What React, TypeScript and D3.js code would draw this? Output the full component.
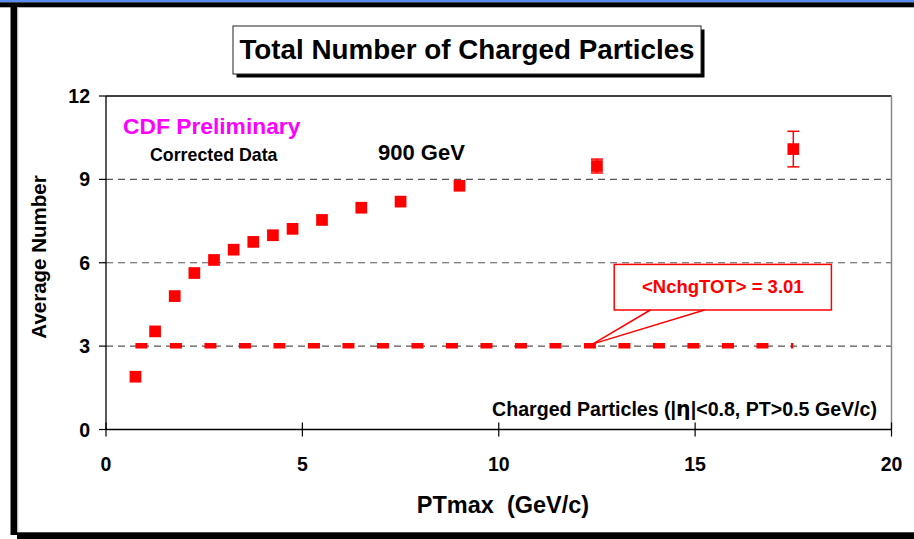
import { useEffect, useRef } from 'react'
import * as d3 from 'd3'

// CDF 900 GeV, average number of charged particles vs PTmax
const ptMax = [0.75, 1.25, 1.75, 2.25, 2.75, 3.25, 3.75, 4.25, 4.75, 5.5, 6.5, 7.5, 9, 12.5, 17.5]
const avgNumber = [1.9, 3.53, 4.8, 5.63, 6.1, 6.47, 6.75, 6.99, 7.22, 7.54, 7.98, 8.2, 8.77, 9.48, 10.09]
const avgErr = [0, 0, 0, 0, 0, 0, 0, 0, 0, 0, 0, 0, 0, 0.25, 0.64]
const meanRange = [0.75, 17.5]
const meanValue = 3.01
const xTicks = [0, 5, 10, 15, 20]
const yTicks = [0, 3, 6, 9, 12]
const gridLevels = [3, 6, 9]

const W = 914
const H = 539
const FONT = '"Liberation Sans", Arial, Helvetica, sans-serif'

export default function App() {
  const ref = useRef<SVGSVGElement>(null)

  useEffect(() => {
    document.body.style.margin = '0'
    const plot = { left: 106, right: 891.5, top: 96, bottom: 429.5 }
    const x = d3.scaleLinear().domain([0, 20]).range([plot.left, plot.right])
    const y = d3.scaleLinear().domain([0, 12]).range([plot.bottom, plot.top])

    const svg = d3.select(ref.current)
    svg.selectAll('*').remove()
    svg.attr('viewBox', `0 0 ${W} ${H}`).style('font-family', FONT)

    svg.append('rect').attr('width', W).attr('height', H).attr('fill', '#fff')

    // slide frame
    svg.append('rect').attr('x', 0).attr('y', 0).attr('width', W).attr('height', 2.3).attr('fill', '#5a8cf0')
    svg.append('rect').attr('x', 0).attr('y', 2.3).attr('width', W).attr('height', 5).attr('fill', '#000')
    svg.append('rect').attr('x', 10.5).attr('y', 7).attr('width', 6.8).attr('height', 528).attr('fill', '#000')
    svg.append('line').attr('x1', 17.8).attr('x2', 17.8).attr('y1', 7).attr('y2', 532)
      .attr('stroke', '#bbb').attr('stroke-width', 1)
    svg.append('rect').attr('x', 17).attr('y', 532.3).attr('width', W - 17).attr('height', 7).attr('fill', '#000')

    // title box with shadow
    const tb = { x: 233, y: 26, w: 468, h: 48 }
    svg.append('rect').attr('x', tb.x + 3.5).attr('y', tb.y + 3.5).attr('width', tb.w).attr('height', tb.h).attr('fill', '#000')
    svg.append('rect').attr('x', tb.x).attr('y', tb.y).attr('width', tb.w).attr('height', tb.h)
      .attr('fill', '#fff').attr('stroke', '#222').attr('stroke-width', 1)
    svg.append('text').attr('x', tb.x + tb.w / 2).attr('y', 59)
      .attr('text-anchor', 'middle').attr('font-weight', 'bold').attr('font-size', 27.8)
      .text('Total Number of Charged Particles')

    // grid lines
    gridLevels.forEach(v => {
      svg.append('line')
        .attr('x1', plot.left).attr('x2', plot.right).attr('y1', y(v)).attr('y2', y(v))
        .attr('stroke', '#555').attr('stroke-width', 1.2).attr('stroke-dasharray', '7 5')
    })

    // plot frame
    svg.append('line').attr('x1', plot.left).attr('x2', plot.right).attr('y1', plot.top).attr('y2', plot.top)
      .attr('stroke', '#000').attr('stroke-width', 1.3)
    svg.append('line').attr('x1', plot.right).attr('x2', plot.right).attr('y1', plot.top).attr('y2', plot.bottom)
      .attr('stroke', '#888').attr('stroke-width', 1.5)
    svg.append('line').attr('x1', plot.left).attr('x2', plot.left).attr('y1', plot.top).attr('y2', plot.bottom)
      .attr('stroke', '#000').attr('stroke-width', 1.3)
    svg.append('line').attr('x1', plot.left).attr('x2', plot.right).attr('y1', plot.bottom).attr('y2', plot.bottom)
      .attr('stroke', '#000').attr('stroke-width', 1.3)

    // y ticks + labels
    yTicks.forEach(v => {
      svg.append('line').attr('x1', plot.left - 7).attr('x2', plot.left).attr('y1', y(v)).attr('y2', y(v))
        .attr('stroke', '#000').attr('stroke-width', 1.2)
      svg.append('text').attr('x', 90).attr('y', y(v) + 7)
        .attr('text-anchor', 'end').attr('font-weight', 'bold').attr('font-size', 19.5)
        .text(v)
    })
    // x ticks + labels
    xTicks.forEach(v => {
      svg.append('line').attr('x1', x(v)).attr('x2', x(v)).attr('y1', plot.bottom - 7).attr('y2', plot.bottom + 7)
        .attr('stroke', '#000').attr('stroke-width', 1.2)
      svg.append('text').attr('x', x(v)).attr('y', 471)
        .attr('text-anchor', 'middle').attr('font-weight', 'bold').attr('font-size', 19.5)
        .text(v)
    })

    // axis titles
    svg.append('text').attr('x', 503).attr('y', 513)
      .attr('text-anchor', 'middle').attr('font-weight', 'bold').attr('font-size', 23.5)
      .attr('xml:space', 'preserve').style('white-space', 'pre')
      .text('PTmax  (GeV/c)')
    svg.append('text').attr('transform', 'translate(46,257) rotate(-90)')
      .attr('text-anchor', 'middle').attr('font-weight', 'bold').attr('font-size', 20.5)
      .text('Average Number')

    // in-plot labels
    svg.append('text').attr('x', 123).attr('y', 134).attr('fill', '#ff00ff')
      .attr('font-weight', 'bold').attr('font-size', 22.8).text('CDF Preliminary')
    svg.append('text').attr('x', 150).attr('y', 161)
      .attr('font-weight', 'bold').attr('font-size', 17.8).text('Corrected Data')
    svg.append('text').attr('x', 378).attr('y', 160)
      .attr('font-weight', 'bold').attr('font-size', 22).text('900 GeV')
    const cp = svg.append('text').attr('x', 877).attr('y', 416).attr('text-anchor', 'end')
      .attr('font-weight', 'bold').attr('font-size', 19.6)
    cp.append('tspan').text('Charged Particles (|')
    cp.append('tspan').attr('font-family', '"DejaVu Sans", serif').attr('font-size', 20.5).text('η')
    cp.append('tspan').text('|<0.8, PT>0.5 GeV/c)')

    // mean line
    svg.append('line')
      .attr('x1', x(meanRange[0])).attr('x2', x(meanRange[1]))
      .attr('y1', y(meanValue)).attr('y2', y(meanValue))
      .attr('stroke', '#ff0000').attr('stroke-width', 5.5).attr('stroke-dasharray', '12 22.5')

    // callout
    const cb = { x0: 12.94, x1: 18.47, y0: 5.94, y1: 4.3 }
    const tip = [12.4, 3.08]
    const base = [13.86, 15.24]
    svg.append('rect')
      .attr('x', x(cb.x0)).attr('y', y(cb.y0))
      .attr('width', x(cb.x1) - x(cb.x0)).attr('height', y(cb.y1) - y(cb.y0))
      .attr('fill', '#fff').attr('stroke', '#ff0000').attr('stroke-width', 1.5)
    base.forEach(b => {
      svg.append('line').attr('x1', x(b)).attr('y1', y(cb.y1)).attr('x2', x(tip[0])).attr('y2', y(tip[1]))
        .attr('stroke', '#ff0000').attr('stroke-width', 1.5)
    })
    svg.append('text').attr('x', (x(cb.x0) + x(cb.x1)) / 2).attr('y', 293)
      .attr('text-anchor', 'middle').attr('fill', '#ff0000')
      .attr('font-weight', 'bold').attr('font-size', 18.5).text(`<NchgTOT> = ${meanValue.toFixed(2)}`)

    // error bars
    ptMax.forEach((p, i) => {
      const e = avgErr[i]
      if (!e) return
      const cx = x(p)
      svg.append('line').attr('x1', cx).attr('x2', cx).attr('y1', y(avgNumber[i] - e)).attr('y2', y(avgNumber[i] + e))
        .attr('stroke', '#ff0000').attr('stroke-width', 1.5)
      ;[avgNumber[i] - e, avgNumber[i] + e].forEach(v => {
        svg.append('line').attr('x1', cx - 6).attr('x2', cx + 6).attr('y1', y(v)).attr('y2', y(v))
          .attr('stroke', '#ff0000').attr('stroke-width', 1.5)
      })
    })

    // markers
    const s = 11.7
    svg.append('g').selectAll('rect').data(ptMax).join('rect')
      .attr('x', d => x(d) - s / 2)
      .attr('y', (_, i) => y(avgNumber[i]) - s / 2)
      .attr('width', s).attr('height', s)
      .attr('fill', '#ff0000')
  }, [])

  return <svg ref={ref} width={W} height={H} style={{ display: 'block' }} />
}
